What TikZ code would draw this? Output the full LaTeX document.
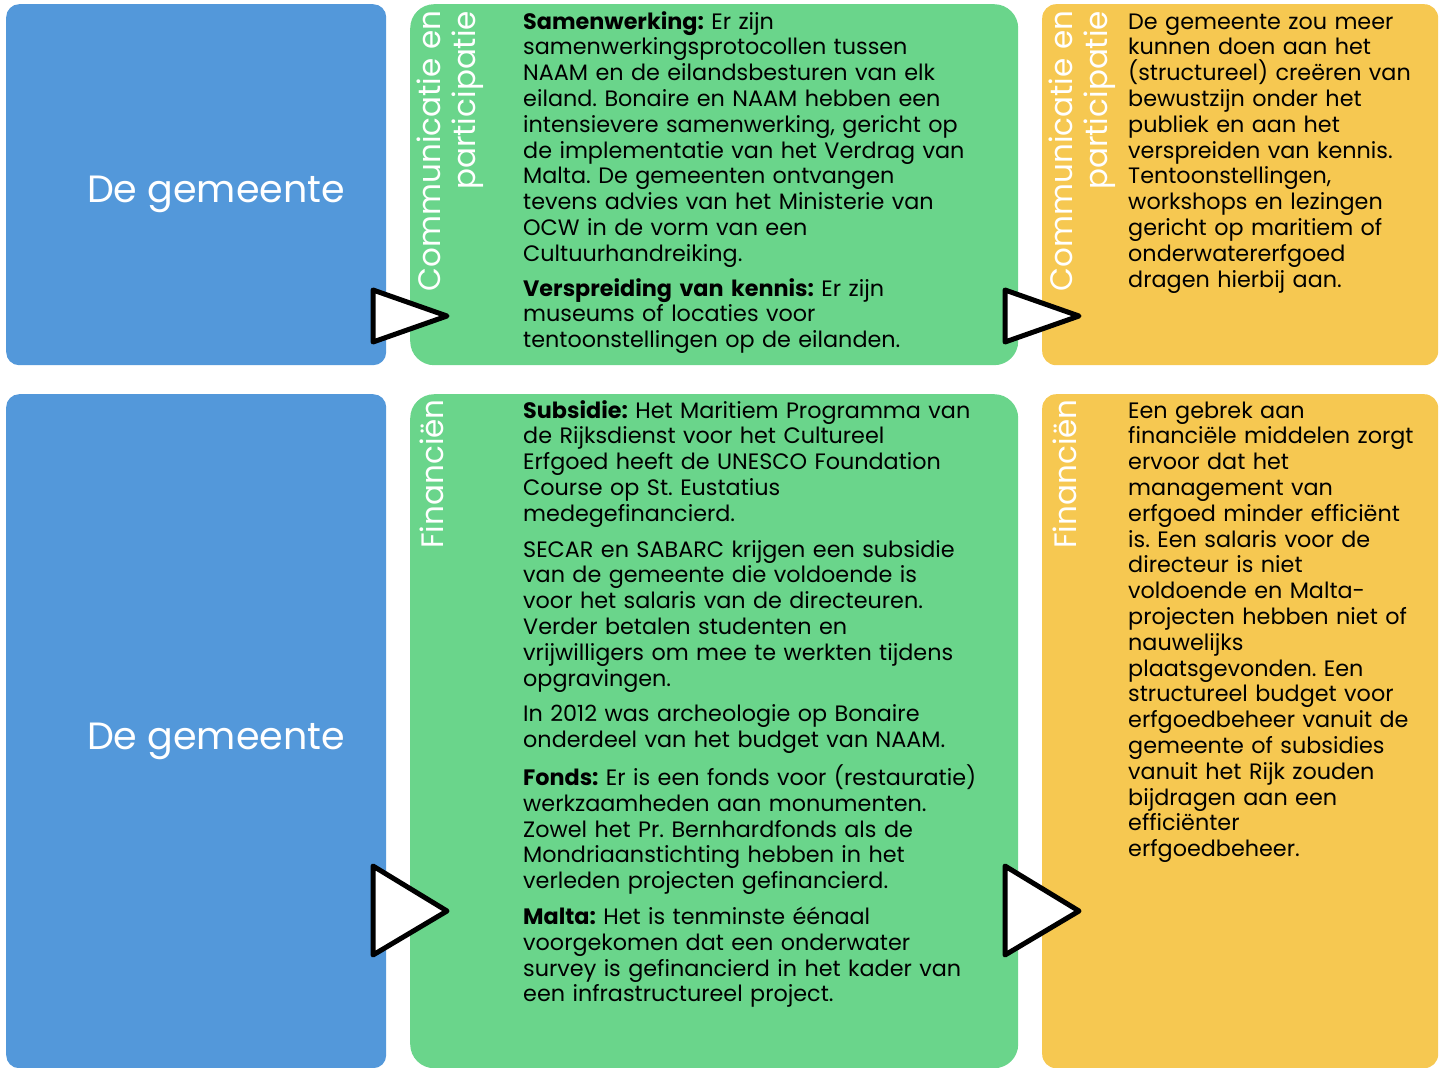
\documentclass[tikz,border=0pt]{standalone}
\usepackage{fontspec}
\setmainfont{Poppins}
\usepackage{tikz}
\usetikzlibrary{positioning}

\definecolor{gemeenteBlue}{HTML}{5398DA}
\definecolor{kaderGreen}{HTML}{6AD58B}
\definecolor{adviesYellow}{HTML}{F6C851}

\begin{document}
\frenchspacing
\begin{tikzpicture}[x=1pt, y=-1pt,
        box/.style={rectangle, draw=none, anchor=north west, inner sep=0pt},
        pijl/.style={draw=black, fill=white, line width=5pt, line join=round},
        kop/.style={text=white, font=\fontsize{38}{44}\selectfont},
        zij/.style={text=white, rotate=90, align=right, font=\fontsize{31}{35}\selectfont},
        tekst/.style={anchor=base west, inner sep=0pt, text width=#1, align=left, font=\fontsize{22.3}{25.8}\selectfont}]
        \useasboundingbox (0,0) rectangle (1443,1068);

        % vakken
        \node[box, fill=gemeenteBlue, rounded corners=13pt, minimum width=380, minimum height=361] (gemeenteT) at (6,4) {};
        \node[box, fill=kaderGreen, rounded corners=24pt, minimum width=608, minimum height=361] (kaderT) at (410,4) {};
        \node[box, fill=adviesYellow, rounded corners=14pt, minimum width=396, minimum height=361] (adviesT) at (1042,4) {};
        \node[box, fill=gemeenteBlue, rounded corners=13pt, minimum width=380, minimum height=674] (gemeenteB) at (6,394) {};
        \node[box, fill=kaderGreen, rounded corners=24pt, minimum width=608, minimum height=674] (kaderB) at (410,394) {};
        \node[box, fill=adviesYellow, rounded corners=14pt, minimum width=396, minimum height=674] (adviesB) at (1042,394) {};

        % pijlen
        \draw[pijl] (373,290) -- (373,342) -- (447,316) -- cycle;
        \draw[pijl] (1005,290) -- (1005,342) -- (1079,316) -- cycle;
        \draw[pijl] (373,866) -- (373,955) -- (447,911) -- cycle;
        \draw[pijl] (1005,866) -- (1005,955) -- (1079,911) -- cycle;

        \node[kop] (kopT) at (216,194) {De gemeente};
        \node[kop] (kopB) at (216,741) {De gemeente};

        \node[zij] (communicatieG) at (450,151) {Communicatie en\\participatie};
        \node[zij] (communicatieY) at (1082,151) {Communicatie en\\participatie};
        \node[zij] (financienG) at (432,474) {Financiën};
        \node[zij] (financienY) at (1065,474) {Financiën};

        \node[tekst=470pt] (samenwerking) at (523,29) {\textbf{Samenwerking:} Er zijn\\
            samenwerkingsprotocollen tussen\\
            NAAM en de eilandsbesturen van elk\\
            eiland. Bonaire en NAAM hebben een\\
            intensievere samenwerking, gericht op\\
            de implementatie van het Verdrag van\\
            Malta. De gemeenten ontvangen\\
            tevens advies van het Ministerie van\\
            OCW in de vorm van een\\
            Cultuurhandreiking.\\[9pt]
            \textbf{Verspreiding van kennis:} Er zijn\\
            museums of locaties voor\\
            tentoonstellingen op de eilanden.};

        \node[tekst=310pt] (bewustzijn) at (1128,29) {De gemeente zou meer\\
            kunnen doen aan het\\
            (structureel) creëren van\\
            bewustzijn onder het\\
            publiek en aan het\\
            verspreiden van kennis.\\
            Tentoonstellingen,\\
            workshops en lezingen\\
            gericht op maritiem of\\
            onderwatererfgoed\\
            dragen hierbij aan.};

        \node[tekst=470pt] (subsidie) at (523,418) {\textbf{Subsidie:} Het Maritiem Programma van\\
            de Rijksdienst voor het Cultureel\\
            Erfgoed heeft de UNESCO Foundation\\
            Course op St. Eustatius\\
            medegefinancierd.\\[10pt]
            SECAR en SABARC krijgen een subsidie\\
            van de gemeente die voldoende is\\
            voor het salaris van de directeuren.\\
            Verder betalen studenten en\\
            vrijwilligers om mee te werkten tijdens\\
            opgravingen.\\[10pt]
            In 2012 was archeologie op Bonaire\\
            onderdeel van het budget van NAAM.\\[10pt]
            \textbf{Fonds:} Er is een fonds voor (restauratie)\\
            werkzaamheden aan monumenten.\\
            Zowel het Pr. Bernhardfonds als de\\
            Mondriaanstichting hebben in het\\
            verleden projecten gefinancierd.\\[10pt]
            \textbf{Malta:} Het is tenminste éénaal\\
            voorgekomen dat een onderwater\\
            survey is gefinancierd in het kader van\\
            een infrastructureel project.};

        \node[tekst=310pt] (gebrek) at (1128,418) {Een gebrek aan\\
            financiële middelen zorgt\\
            ervoor dat het\\
            management van\\
            erfgoed minder efficiënt\\
            is. Een salaris voor de\\
            directeur is niet\\
            voldoende en Malta-\\
            projecten hebben niet of\\
            nauwelijks\\
            plaatsgevonden. Een\\
            structureel budget voor\\
            erfgoedbeheer vanuit de\\
            gemeente of subsidies\\
            vanuit het Rijk zouden\\
            bijdragen aan een\\
            efficiënter\\
            erfgoedbeheer.};
      \end{tikzpicture}
\end{document}
